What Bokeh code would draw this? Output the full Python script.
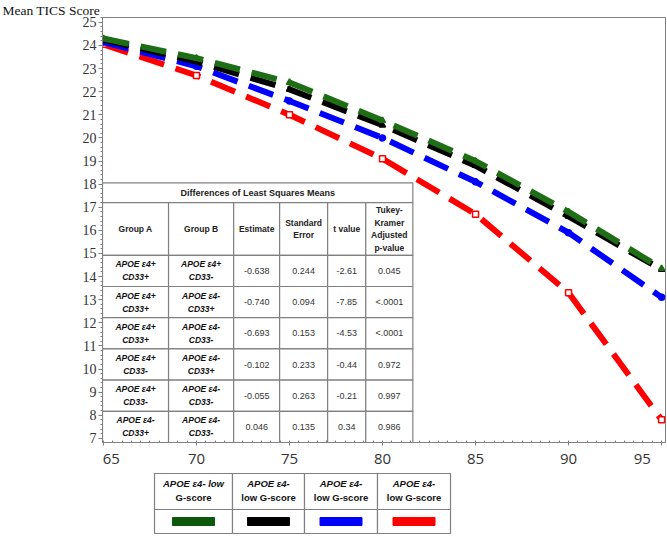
from bokeh.plotting import figure
from bokeh.models import Range1d, FixedTicker, Title
from bokeh.layouts import column
from bokeh.core.properties import value
from bokeh.embed import file_html
from bokeh.resources import INLINE

# ---------------- data ----------------
ages = [65, 70, 75, 80, 85, 90, 95]
green_vals = [24.3, 23.45, 22.4, 20.75, 19.0, 16.8, 14.35]
black_vals = [24.25, 23.3, 22.1, 20.55, 18.8, 16.6, 14.3]
blue_vals = [24.15, 23.1, 21.6, 20.0, 18.1, 15.9, 13.1]
red_vals = [24.05, 22.7, 21.0, 19.1, 16.7, 13.3, 7.8]

x_ticks = [65, 70, 75, 80, 85, 90, 95]
y_ticks = [7, 8, 9, 10, 11, 12, 13, 14, 15, 16, 17, 18, 19, 20, 21, 22, 23, 24, 25]

y_title = "Mean TICS Score"
table_title = "Differences of Least Squares Means"
table_headers = ["Group A", "Group B", "Estimate", "Standard\nError", "t value",
                 "Tukey-\nKramer\nAdjusted\np-value"]
group_a = ["APOE ε4+\nCD33+", "APOE ε4+\nCD33+", "APOE ε4+\nCD33+",
           "APOE ε4+\nCD33-", "APOE ε4+\nCD33-", "APOE ε4-\nCD33+"]
group_b = ["APOE ε4+\nCD33-", "APOE ε4-\nCD33+", "APOE ε4-\nCD33-",
           "APOE ε4-\nCD33+", "APOE ε4-\nCD33-", "APOE ε4-\nCD33-"]
estimates = ["-0.638", "-0.740", "-0.693", "-0.102", "-0.055", "0.046"]
std_errors = ["0.244", "0.094", "0.153", "0.233", "0.263", "0.135"]
t_values = ["-2.61", "-7.85", "-4.53", "-0.44", "-0.21", "0.34"]
p_values = ["0.045", "<.0001", "<.0001", "0.972", "0.997", "0.986"]

legend_line1 = ["APOE ε4- low", "APOE ε4-", "APOE ε4-", "APOE ε4-"]
legend_line2 = ["G-score", "low G-score", "low G-score", "low G-score"]

# ---------------- styles ----------------
GREEN = "#1d6e14"
GREEN_SW = "#0c580c"
BLACK = "#000000"
BLUE = "#0000ff"
RED = "#ff0000"
GRID = "#808080"
SANS = "Liberation Sans"
NB = "\u00a0"

X0, X1 = 64.95, 95.21
Y0, Y1 = 6.82, 25.21

FRAME_L, FRAME_R = 102, 665
W = 666

p = figure(width=W, height=470, x_range=Range1d(X0, X1), y_range=Range1d(Y0, Y1),
           toolbar_location=None, output_backend="svg",
           min_border_left=FRAME_L, min_border_right=W - FRAME_R,
           min_border_top=0, min_border_bottom=23)
p.title = Title(text=y_title, align="left", offset=-100, standoff=0,
                text_font="Liberation Serif", text_font_size="13.5px",
                text_font_style="normal", text_color="#111111")
p.grid.visible = False
p.outline_line_color = GRID
p.outline_line_width = 1
p.background_fill_color = "white"
p.border_fill_color = "white"

p.xaxis.ticker = FixedTicker(ticks=x_ticks, minor_ticks=[X0 + 0.05 + 0.5 * i for i in range(61)])
p.yaxis.ticker = FixedTicker(ticks=y_ticks, minor_ticks=[7 + 0.2 * i for i in range(92)])
for ax in (p.xaxis[0], p.yaxis[0]):
    ax.axis_line_color = GRID
    ax.major_tick_line_color = GRID
    ax.minor_tick_line_color = GRID
p.xaxis.major_tick_in = 0
p.xaxis.major_tick_out = 3
p.xaxis.minor_tick_in = 2
p.xaxis.minor_tick_out = 0
p.xaxis.major_label_standoff = 2
p.xaxis.major_label_text_font = "Open Sans"
p.xaxis.major_label_text_font_size = "15px"
p.xaxis.major_label_text_color = "#333333"
# end labels nudged inward, as in the reference
p.xaxis.major_label_overrides = {x_ticks[0]: NB * 4 + str(x_ticks[0]),
                                 x_ticks[-1]: str(x_ticks[-1]) + NB * 4}
p.yaxis.major_tick_in = 0
p.yaxis.major_tick_out = 4
p.yaxis.minor_tick_in = 0
p.yaxis.minor_tick_out = 2
p.yaxis.major_label_standoff = 2
p.yaxis.major_label_text_font = "Liberation Serif"
p.yaxis.major_label_text_font_size = "14px"
p.yaxis.major_label_text_color = "#333333"

# ---------------- series ----------------
DASH = "26 12"
series = [
    (red_vals, RED, "square"),
    (blue_vals, BLUE, "circle"),
    (black_vals, BLACK, "triangle"),
    (green_vals, GREEN, "triangle"),
]
for vals, col, mk in series:
    p.line(ages, vals, line_color=col, line_width=6, line_dash=DASH)
    p.scatter(ages, vals, marker=mk, size=6, line_color=col, line_width=1.5,
              fill_color="white" if mk == "square" else col)

# ---------------- inset table ----------------
col_w = [3.55, 3.5, 2.47, 2.58, 2.05, 2.53]
row_h = 1.35
header_h = 2.28
title_h = 0.85
edges = [X0]
for w in col_w:
    edges.append(edges[-1] + w)
n_rows = len(estimates)
body_top = Y0 + n_rows * row_h
header_top = body_top + header_h
table_top = header_top + title_h

L, R, B, T = [], [], [], []
L.append(edges[0]); R.append(edges[-1]); B.append(header_top); T.append(table_top)
for c in range(len(col_w)):
    L.append(edges[c]); R.append(edges[c + 1]); B.append(body_top); T.append(header_top)
    for r in range(n_rows):
        top = body_top - r * row_h
        L.append(edges[c]); R.append(edges[c + 1]); B.append(top - row_h); T.append(top)
p.quad(left=L, right=R, bottom=B, top=T, fill_color="white", line_color=GRID, line_width=1.2)

centers = [(edges[c] + edges[c + 1]) / 2 for c in range(len(col_w))]
p.text(x=[(edges[0] + edges[-1]) / 2], y=[(header_top + table_top) / 2], text=[table_title],
       text_font=value(SANS), text_font_size="9px", text_font_style="bold",
       text_align="center", text_baseline="middle", text_color="#222222")
p.text(x=centers, y=[(body_top + header_top) / 2] * len(centers), text=table_headers,
       text_font=value(SANS), text_font_size="8.5px", text_font_style="bold",
       text_align="center", text_baseline="middle", text_color="#222222", text_line_height=1.25)
row_y = [body_top - (r + 0.5) * row_h for r in range(n_rows)]
p.text(x=[centers[0]] * n_rows, y=row_y, text=group_a,
       text_font=value(SANS), text_font_size="8.5px", text_font_style="bold italic",
       text_align="center", text_baseline="middle", text_color="#111111", text_line_height=1.3)
p.text(x=[centers[1]] * n_rows, y=row_y, text=group_b,
       text_font=value(SANS), text_font_size="8.5px", text_font_style="bold italic",
       text_align="center", text_baseline="middle", text_color="#111111", text_line_height=1.3)
for ci, col_vals in zip(range(2, 6), [estimates, std_errors, t_values, p_values]):
    p.text(x=[centers[ci]] * n_rows, y=row_y, text=col_vals,
           text_font=value(SANS), text_font_size="9px",
           text_align="center", text_baseline="middle", text_color="#333333")

# ---------------- legend table (coordinates = canvas pixels) ----------------
lg = figure(width=W, height=66, x_range=Range1d(FRAME_L, FRAME_R), y_range=Range1d(66, 0),
            toolbar_location=None, output_backend="svg",
            min_border_left=FRAME_L, min_border_right=W - FRAME_R,
            min_border_top=0, min_border_bottom=0,
            x_axis_location=None, y_axis_location=None)
lg.grid.visible = False
lg.outline_line_color = None
lg_edges = [154, 232, 304, 377, 450]
lg_top, lg_mid, lg_bot = 3, 39, 63
lL, lR, lB, lT = [], [], [], []
for c in range(4):
    lL += [lg_edges[c], lg_edges[c]]
    lR += [lg_edges[c + 1], lg_edges[c + 1]]
    lB += [lg_mid, lg_bot]
    lT += [lg_top, lg_mid]
lg.quad(left=lL, right=lR, top=lT, bottom=lB, fill_color="white", line_color=GRID, line_width=1.2)
lc = [(lg_edges[c] + lg_edges[c + 1]) / 2 for c in range(4)]
lg.text(x=lc, y=[lg_top + 10] * 4, text=legend_line1, text_font=value(SANS),
        text_font_size="9.5px", text_font_style="bold italic", text_align="center",
        text_baseline="middle", text_color="#111111")
lg.text(x=lc, y=[lg_top + 24] * 4, text=legend_line2, text_font=value(SANS),
        text_font_size="9.5px", text_font_style="bold", text_align="center",
        text_baseline="middle", text_color="#111111")
sw_cols = [GREEN_SW, BLACK, BLUE, RED]
lg.rect(x=lc, y=[(lg_mid + lg_bot) / 2] * 4, width=42, height=8, fill_color=sw_cols,
        line_color=sw_cols)

layout = column(p, lg, spacing=0)
open("out.html", "w").write(file_html(layout, INLINE))
